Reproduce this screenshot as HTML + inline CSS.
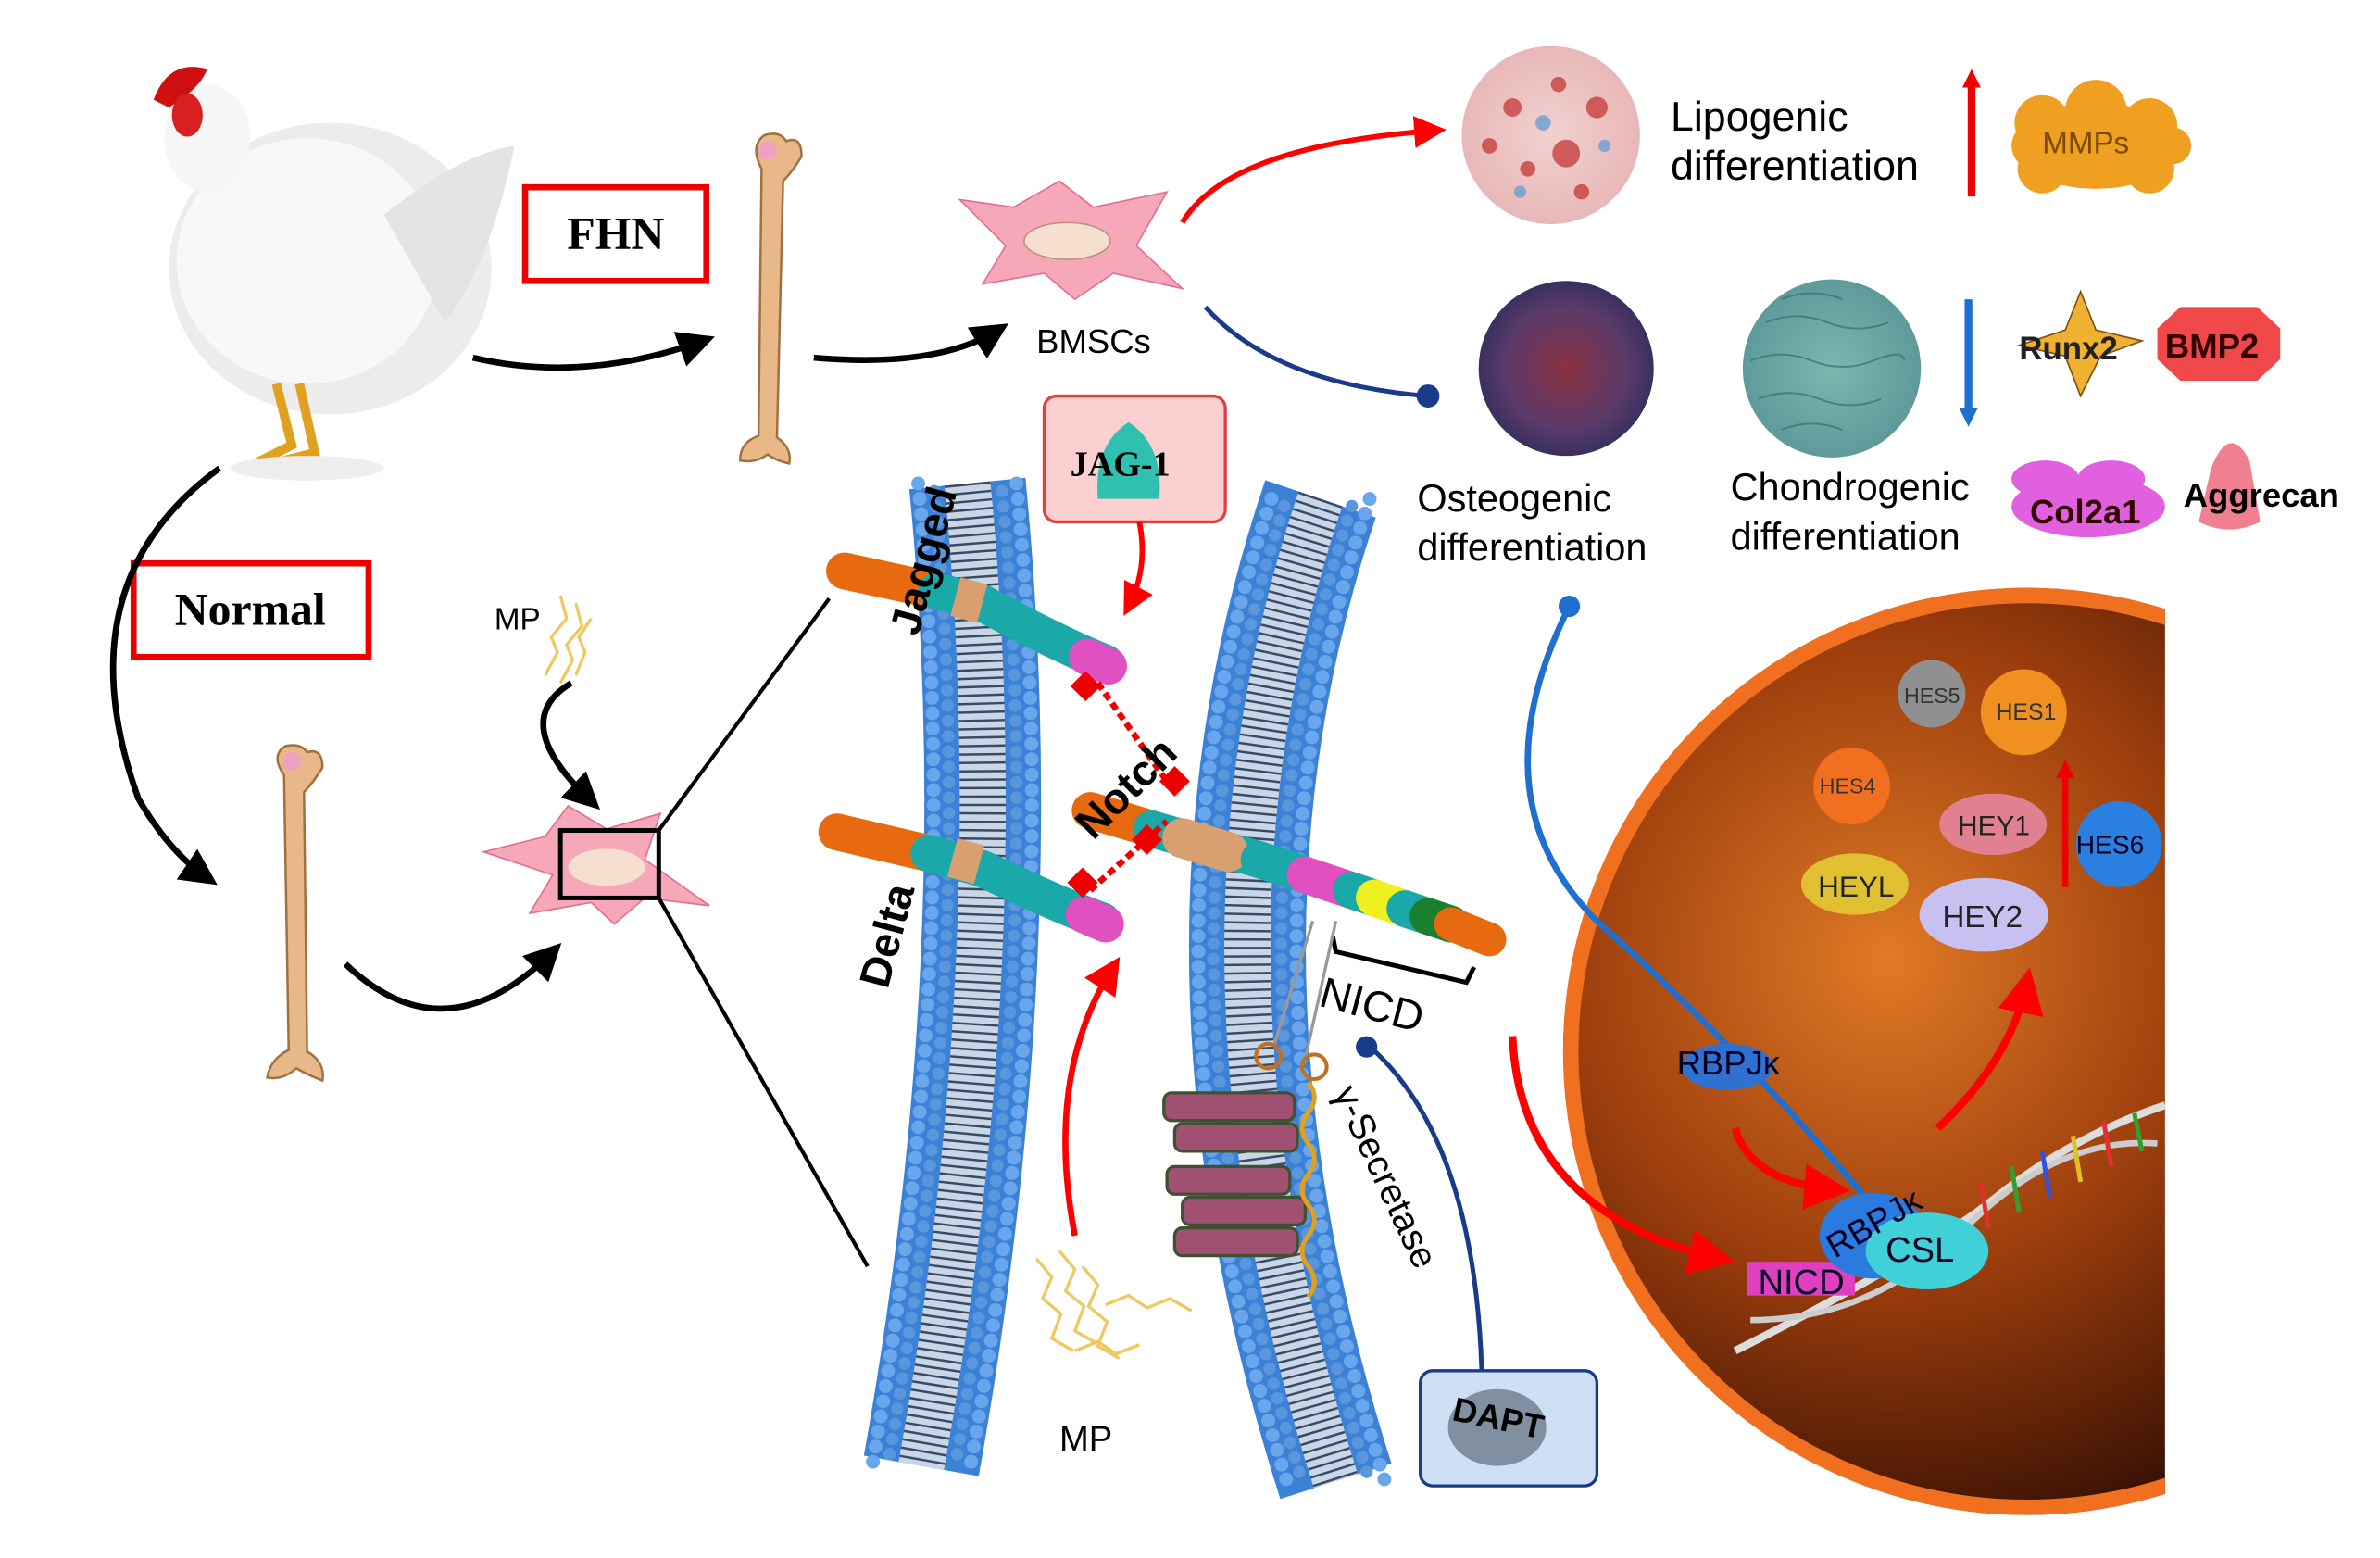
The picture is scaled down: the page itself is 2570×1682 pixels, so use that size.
<!DOCTYPE html>
<html><head><meta charset="utf-8"><style>
html,body{margin:0;padding:0;background:#fff;}
svg{display:block;}
text{font-family:"Liberation Sans",sans-serif;}
</style></head><body>
<svg width="2570" height="1682" viewBox="0 0 1550 1015" preserveAspectRatio="none" xmlns="http://www.w3.org/2000/svg">
<defs>
<radialGradient id="nuc" cx="0.35" cy="0.4" r="0.7">
<stop offset="0" stop-color="#e07a25"/><stop offset="0.5" stop-color="#9a3c0c"/><stop offset="1" stop-color="#250802"/>
</radialGradient>
<radialGradient id="lip" cx="0.5" cy="0.5" r="0.5"><stop offset="0" stop-color="#f2d0d0"/><stop offset="1" stop-color="#e8b8b8"/></radialGradient>
<radialGradient id="ost" cx="0.5" cy="0.5" r="0.5"><stop offset="0" stop-color="#8a3040"/><stop offset="0.7" stop-color="#5a3a6a"/><stop offset="1" stop-color="#3a3060"/></radialGradient>
<radialGradient id="cho" cx="0.5" cy="0.5" r="0.5"><stop offset="0" stop-color="#7bb8b0"/><stop offset="1" stop-color="#5e9a9a"/></radialGradient>
<marker id="ab" markerWidth="6" markerHeight="6" refX="4" refY="3" orient="auto"><path d="M0,0 L6,3 L0,6 Z" fill="#000"/></marker>
<marker id="ar" markerWidth="6" markerHeight="6" refX="4" refY="3" orient="auto"><path d="M0,0 L6,3 L0,6 Z" fill="#f00"/></marker>
<marker id="dotb" markerWidth="6" markerHeight="6" refX="3" refY="3"><circle cx="3" cy="3" r="2.5" fill="#1a3a8a"/></marker>
<clipPath id="cl"><rect x="0" y="0" width="1410" height="1015"/></clipPath>
</defs>

<!-- chicken -->
<ellipse cx="215" cy="175" rx="105" ry="95" fill="#ececec"/>
<ellipse cx="200" cy="170" rx="85" ry="80" fill="#f8f8f8"/>
<path d="M250,140 Q300,100 335,95 Q320,170 290,210 Z" fill="#e4e4e4"/>
<ellipse cx="135" cy="90" rx="28" ry="35" fill="#f6f6f6"/>
<path d="M100,65 Q110,38 135,45 Q130,58 110,70 Z" fill="#d01010"/>
<ellipse cx="122" cy="75" rx="10" ry="14" fill="#d82020"/>
<path d="M180,250 L190,290 L160,305 M195,250 L205,295 L185,300" stroke="#e0a020" stroke-width="6" fill="none"/>
<ellipse cx="200" cy="305" rx="50" ry="8" fill="#eee"/>

<!-- boxes -->
<rect x="342" y="122" width="118" height="61" fill="#fff" stroke="#e00" stroke-width="4"/>
<text x="401" y="162" font-weight="bold" font-size="30" text-anchor="middle" style="font-family:'Liberation Serif',serif">FHN</text>
<rect x="87" y="367" width="153" height="61" fill="#fff" stroke="#e00" stroke-width="4"/>
<text x="163" y="407" font-weight="bold" font-size="30" text-anchor="middle" style="font-family:'Liberation Serif',serif">Normal</text>

<!-- bones -->
<g fill="#e8b888" stroke="#a07040" stroke-width="1.5">
<path d="M496,110 Q488,95 498,88 Q508,85 512,92 Q522,88 522,102 Q516,112 510,118 L506,285 Q516,292 514,302 Q505,300 500,296 Q492,302 482,300 Q482,288 494,284 Z"/>
<path d="M185,505 Q176,492 186,486 Q196,484 200,490 Q210,487 210,500 Q204,510 198,516 L200,685 Q212,692 210,704 Q200,700 193,696 Q184,704 174,702 Q176,690 188,684 Z"/>
</g>
<circle cx="500" cy="98" r="6" fill="#f0a0c0"/><circle cx="190" cy="496" r="6" fill="#f0a0c0"/>

<!-- black arrows -->
<g stroke="#000" stroke-width="4" fill="none" marker-end="url(#ab)">
<path d="M308,233 Q380,250 458,222"/>
<path d="M530,233 Q610,240 650,215"/>
<path d="M143,305 Q40,380 90,520 Q110,555 135,572"/>
<path d="M225,628 Q290,690 360,620"/>
<path d="M372,445 Q330,470 385,522"/>
</g>

<!-- BMSC cell top -->
<path d="M625,130 L660,135 L690,118 L712,135 L760,125 L740,160 L770,188 L725,178 L700,195 L680,178 L640,185 L655,160 Z" fill="#f7a8b8" stroke="#e07090"/>
<ellipse cx="695" cy="157" rx="28" ry="12" fill="#f5e0d0" stroke="#c09080"/>
<text x="675" y="230" font-size="22">BMSCs</text>

<!-- cell bottom -->
<path d="M315,555 L355,545 L370,525 L395,540 L430,530 L420,560 L462,590 L420,585 L400,602 L385,588 L345,595 L360,570 Z" fill="#f7a8b8" stroke="#e07090"/>
<ellipse cx="395" cy="565" rx="25" ry="12" fill="#f5e0d0"/>
<rect x="365" y="541" width="64" height="44" fill="none" stroke="#000" stroke-width="3"/>
<line x1="429" y1="541" x2="540" y2="390" stroke="#000" stroke-width="2.5"/>
<line x1="429" y1="585" x2="565" y2="825" stroke="#000" stroke-width="2.5"/>
<text x="322" y="410" font-size="20">MP</text>
<path d="M355,440 l8,-15 l-4,-10 l10,-12 l-4,-15 M365,445 l8,-15 l-4,-10 l10,-12 l-4,-15 M375,440 l6,-15 l-4,-10 l8,-12" stroke="#f0c860" stroke-width="2" fill="none"/>

<!-- top right arrows -->
<path d="M770,145 Q800,95 935,85" stroke="#f00" stroke-width="3.5" fill="none" marker-end="url(#ar)"/>
<path d="M785,200 Q830,250 930,258" stroke="#1a3a8a" stroke-width="3" fill="none" marker-end="url(#dotb)"/>

<!-- circles -->
<circle cx="1010" cy="88" r="58" fill="url(#lip)"/>
<g fill="#c84040" opacity="0.8"><circle cx="985" cy="70" r="6"/><circle cx="1020" cy="100" r="9"/><circle cx="995" cy="110" r="5"/><circle cx="1040" cy="70" r="7"/><circle cx="970" cy="95" r="5"/><circle cx="1030" cy="125" r="5"/><circle cx="1015" cy="55" r="5"/></g>
<g fill="#6aa0d0" opacity="0.8"><circle cx="1005" cy="80" r="5"/><circle cx="1045" cy="95" r="4"/><circle cx="990" cy="125" r="4"/></g>
<circle cx="1020" cy="240" r="57" fill="url(#ost)"/>
<circle cx="1193" cy="240" r="58" fill="url(#cho)"/>
<g stroke="#3a7070" stroke-width="1.2" fill="none" opacity="0.7"><path d="M1150,210 q20,-8 40,0 t40,0"/><path d="M1140,235 q20,-8 40,0 t40,0 t20,0"/><path d="M1145,260 q20,-8 40,0 t40,0"/><path d="M1160,280 q20,-8 40,0"/><path d="M1160,195 q20,-8 40,0"/></g>

<text x="1088" y="85" font-size="27">Lipogenic</text>
<text x="1088" y="117" font-size="27">differentiation</text>
<text x="923" y="333" font-size="25">Osteogenic</text>
<text x="923" y="365" font-size="25">differentiation</text>
<text x="1127" y="326" font-size="25">Chondrogenic</text>
<text x="1127" y="358" font-size="25">differentiation</text>

<line x1="1284" y1="128" x2="1284" y2="55" stroke="#e00" stroke-width="5"/><path d="M1278,57 L1284,45 L1290,57 Z" fill="#e00"/>
<line x1="1282" y1="195" x2="1282" y2="268" stroke="#1e6fd0" stroke-width="5"/><path d="M1276,266 L1282,278 L1288,266 Z" fill="#1e6fd0"/>

<!-- MMPs cloud -->
<g fill="#f0a020"><ellipse cx="1365" cy="95" rx="55" ry="28"/><circle cx="1330" cy="80" r="18"/><circle cx="1365" cy="72" r="20"/><circle cx="1400" cy="82" r="18"/><circle cx="1330" cy="110" r="16"/><circle cx="1400" cy="110" r="16"/><circle cx="1415" cy="95" r="12"/></g>
<text x="1330" y="100" font-size="20" fill="#7a4a00">MMPs</text>
<path d="M1355,190 L1365,215 L1395,222 L1368,232 L1355,258 L1345,232 L1315,225 L1345,215 Z" fill="#f0b030" stroke="#805010"/>
<text x="1315" y="234" font-size="21" font-weight="bold" fill="#222">Runx2</text>
<path d="M1420,200 L1470,200 L1485,214 L1485,234 L1470,248 L1420,248 L1405,234 L1405,214 Z" fill="#f04848"/>
<text x="1410" y="233" font-size="22" font-weight="bold" fill="#300">BMP2</text>
<g fill="#e060e0"><ellipse cx="1360" cy="330" rx="50" ry="20"/><ellipse cx="1332" cy="312" rx="22" ry="12"/><ellipse cx="1375" cy="312" rx="22" ry="12"/></g>
<text x="1322" y="341" font-size="22" font-weight="bold" fill="#300">Col2a1</text>
<path d="M1440,305 Q1452,275 1465,300 L1472,340 Q1452,350 1432,340 Z" fill="#f08090"/>
<text x="1422" y="330" font-size="22" font-weight="bold">Aggrecan</text>

<!-- JAG-1 box -->
<rect x="680" y="258" width="118" height="82" rx="8" fill="#fcd0d0" stroke="#e04040" stroke-width="2"/>
<path d="M715,325 Q712,290 735,275 Q758,290 755,325 Z" fill="#30c0b0"/>
<text x="697" y="310" font-size="23" font-weight="bold" style="font-family:'Liberation Serif',serif">JAG-1</text>
<path d="M742,340 Q748,370 735,395" stroke="#f00" stroke-width="3.5" fill="none" marker-end="url(#ar)"/>

<!-- membranes -->
<g fill="none" stroke-linecap="butt">
<path d="M630,315 Q660,620 600,955" stroke="#3b82d6" stroke-width="76"/>
<path d="M630,315 Q660,620 600,955" stroke="#c8d6e6" stroke-width="30"/>
<path d="M630,315 Q660,620 600,955" stroke="#3a4a66" stroke-width="30" stroke-dasharray="1.5 4"/>
<path d="M598,315 Q628,620 568,955" stroke="#6aa6ec" stroke-width="9" stroke-linecap="round" stroke-dasharray="0 10"/>
<path d="M608,315 Q638,620 578,955" stroke="#5a96dc" stroke-width="8" stroke-linecap="round" stroke-dasharray="0 10" stroke-dashoffset="5"/>
<path d="M652,315 Q682,620 622,955" stroke="#5a96dc" stroke-width="8" stroke-linecap="round" stroke-dasharray="0 10" stroke-dashoffset="5"/>
<path d="M662,315 Q692,620 632,955" stroke="#6aa6ec" stroke-width="9" stroke-linecap="round" stroke-dasharray="0 10"/>
<path d="M860,325 Q760,620 870,965" stroke="#3b82d6" stroke-width="76"/>
<path d="M860,325 Q760,620 870,965" stroke="#c8d6e6" stroke-width="30"/>
<path d="M860,325 Q760,620 870,965" stroke="#3a4a66" stroke-width="30" stroke-dasharray="1.5 4"/>
<path d="M828,325 Q728,620 838,965" stroke="#6aa6ec" stroke-width="9" stroke-linecap="round" stroke-dasharray="0 10"/>
<path d="M838,325 Q738,620 848,965" stroke="#5a96dc" stroke-width="8" stroke-linecap="round" stroke-dasharray="0 10" stroke-dashoffset="5"/>
<path d="M882,325 Q782,620 892,965" stroke="#5a96dc" stroke-width="8" stroke-linecap="round" stroke-dasharray="0 10" stroke-dashoffset="5"/>
<path d="M892,325 Q792,620 902,965" stroke="#6aa6ec" stroke-width="9" stroke-linecap="round" stroke-dasharray="0 10"/>
</g>

<!-- Jagged / Delta / Notch -->
<g stroke-linecap="round" fill="none">
<path d="M550,372 L610,385" stroke="#e86a10" stroke-width="24"/>
<path d="M610,385 L640,393" stroke="#1aa8a8" stroke-width="24"/>
<path d="M640,393 Q690,420 720,432" stroke="#1aa8a8" stroke-width="24"/>
<path d="M708,428 L722,434" stroke="#e050c0" stroke-width="24"/>
<path d="M545,542 L605,556" stroke="#e86a10" stroke-width="24"/>
<path d="M605,556 L640,566" stroke="#1aa8a8" stroke-width="24"/>
<path d="M640,566 Q690,590 718,600" stroke="#1aa8a8" stroke-width="24"/>
<path d="M706,596 L720,602" stroke="#e050c0" stroke-width="24"/>
<path d="M710,528 L750,540" stroke="#e86a10" stroke-width="24"/>
<path d="M750,540 L820,560" stroke="#1aa8a8" stroke-width="24"/>
<path d="M770,546 L800,555" stroke="#d8a070" stroke-width="26"/>
<path d="M820,560 L850,570" stroke="#1aa8a8" stroke-width="24"/>
<path d="M850,570 L880,580" stroke="#e050c0" stroke-width="24"/>
<path d="M880,580 L895,585" stroke="#1aa8a8" stroke-width="24"/>
<path d="M895,585 L915,592" stroke="#f0f020" stroke-width="24"/>
<path d="M915,592 L930,597" stroke="#1aa8a8" stroke-width="24"/>
<path d="M930,597 L945,602" stroke="#1a8030" stroke-width="24"/>
<path d="M945,602 L970,612" stroke="#e86a10" stroke-width="22"/>
</g>
<rect x="622" y="378" width="18" height="26" fill="#d8a070" transform="rotate(15 631 391)"/>
<rect x="620" y="548" width="18" height="26" fill="#d8a070" transform="rotate(15 629 561)"/>
<path d="M715,445 L762,512" stroke="#e00" stroke-width="4" stroke-dasharray="5 3"/>
<path d="M710,580 L760,535" stroke="#e00" stroke-width="4" stroke-dasharray="5 3"/>
<g fill="#e00"><rect x="700" y="440" width="14" height="14" transform="rotate(45 707 447)"/><rect x="758" y="502" width="14" height="14" transform="rotate(45 765 509)"/><rect x="698" y="568" width="14" height="14" transform="rotate(45 705 575)"/><rect x="740" y="540" width="14" height="14" transform="rotate(45 747 547)"/></g>
<text font-size="28" font-weight="bold" transform="translate(598,415) rotate(-75)">Jagged</text>
<text font-size="28" font-weight="bold" transform="translate(578,645) rotate(-75)">Delta</text>
<text font-size="28" font-weight="bold" transform="translate(712,548) rotate(-45)">Notch</text>
<path d="M868,610 L870,620 L955,640 L960,630" stroke="#000" stroke-width="3" fill="none"/>
<text font-size="28" transform="translate(858,655) rotate(15)">NICD</text>
<text font-size="24" transform="translate(868,712) rotate(65)">γ-Secretase</text>
<path d="M855,600 L830,680 M870,600 L850,690" stroke="#999" stroke-width="2" fill="none"/>
<circle cx="826" cy="688" r="8" fill="none" stroke="#c07020" stroke-width="2.5"/><circle cx="856" cy="695" r="8" fill="none" stroke="#c07020" stroke-width="2.5"/>
<g fill="#a05070" stroke="#405030" stroke-width="2">
<rect x="758" y="712" width="85" height="18" rx="5"/><rect x="765" y="732" width="80" height="18" rx="5"/>
<rect x="760" y="760" width="80" height="18" rx="5"/><rect x="770" y="780" width="80" height="18" rx="5"/><rect x="765" y="800" width="80" height="18" rx="5"/>
</g>
<path d="M852,705 q8,10 0,20 q-8,10 0,20 q8,10 0,20 q-8,10 0,20 q8,10 0,20 q-8,10 0,20 q8,10 0,20" stroke="#e0a020" stroke-width="3" fill="none"/>
<path d="M700,805 Q680,700 725,630" stroke="#f00" stroke-width="4" fill="none" marker-end="url(#ar)"/>
<g stroke="#f0c860" stroke-width="2" fill="none"><path d="M675,820 l10,12 l-6,14 l12,10 l-6,16 l14,8"/><path d="M690,815 l10,12 l-6,14 l12,10 l-6,16 l14,8"/><path d="M705,825 l10,12 l-6,14 l12,10 l-6,16 l14,8"/><path d="M720,850 l15,-6 l12,8 l15,-6 l14,8"/><path d="M700,880 l15,-6 l12,8 l15,-6"/></g>
<text x="690" y="945" font-size="23">MP</text>

<!-- DAPT -->
<path d="M890,680 Q960,740 965,893" stroke="#1a3a8a" stroke-width="3" fill="none"/>
<circle cx="890" cy="682" r="7" fill="#1a3a8a"/>
<rect x="925" y="893" width="115" height="75" rx="8" fill="#cfe0f4" stroke="#1a3a8a" stroke-width="2"/>
<ellipse cx="975" cy="930" rx="32" ry="25" fill="#8090a0"/>
<text font-size="22" font-weight="bold" transform="translate(945,925) rotate(12)">DAPT</text>

<!-- nucleus -->
<g clip-path="url(#cl)">
<circle cx="1320" cy="685" r="302" fill="url(#nuc)"/>
<circle cx="1320" cy="685" r="297" fill="none" stroke="#f07020" stroke-width="10"/>
</g>
<path d="M1022,395 Q960,520 1040,600 Q1130,680 1215,780" stroke="#1e6fd0" stroke-width="4" fill="none"/>
<circle cx="1022" cy="395" r="7" fill="#1e6fd0"/>
<path d="M985,675 Q990,790 1120,820" stroke="#f00" stroke-width="5" fill="none" marker-end="url(#ar)"/>
<path d="M1130,880 Q1250,820 1300,780 T1410,720" stroke="#ddd" stroke-width="5" fill="none"/>
<path d="M1140,860 Q1220,860 1280,800 T1405,745" stroke="#ccc" stroke-width="4" fill="none"/>
<g stroke-width="3"><line x1="1290" y1="770" x2="1295" y2="800" stroke="#e03030"/><line x1="1310" y1="760" x2="1315" y2="790" stroke="#30a030"/><line x1="1330" y1="750" x2="1335" y2="780" stroke="#3050e0"/><line x1="1350" y1="740" x2="1355" y2="770" stroke="#e0c020"/><line x1="1370" y1="730" x2="1375" y2="760" stroke="#e03030"/><line x1="1390" y1="725" x2="1395" y2="750" stroke="#30a030"/></g>
<ellipse cx="1125" cy="695" rx="30" ry="15" fill="#3070d0"/>
<text x="1092" y="700" font-size="22" fill="#002">RBPJκ</text>
<path d="M1130,735 Q1140,770 1195,775" stroke="#f00" stroke-width="5" fill="none" marker-end="url(#ar)"/>
<rect x="1138" y="822" width="70" height="22" fill="#e040c0"/>
<ellipse cx="1220" cy="805" rx="35" ry="28" fill="#2a7ae0"/>
<ellipse cx="1255" cy="815" rx="40" ry="25" fill="#40d0d8"/>
<text x="1145" y="843" font-size="23" fill="#002">NICD</text>
<text font-size="22" fill="#002" transform="translate(1195,820) rotate(-30)">RBPJκ</text>
<text x="1228" y="822" font-size="23" fill="#002">CSL</text>
<path d="M1262,735 Q1310,690 1320,640" stroke="#f00" stroke-width="5" fill="none" marker-end="url(#ar)"/>
<circle cx="1258" cy="452" r="22" fill="#909090"/><text x="1240" y="458" font-size="14" fill="#333">HES5</text>
<circle cx="1318" cy="464" r="28" fill="#f09020"/><text x="1300" y="469" font-size="15" fill="#333">HES1</text>
<circle cx="1206" cy="512" r="25" fill="#f07020"/><text x="1185" y="517" font-size="14" fill="#333">HES4</text>
<ellipse cx="1298" cy="537" rx="35" ry="20" fill="#e08090"/><text x="1275" y="544" font-size="18" fill="#222">HEY1</text>
<ellipse cx="1208" cy="576" rx="35" ry="20" fill="#e0c030"/><text x="1184" y="584" font-size="19" fill="#222">HEYL</text>
<ellipse cx="1292" cy="596" rx="42" ry="24" fill="#c8c0f0"/><text x="1265" y="604" font-size="20" fill="#222">HEY2</text>
<circle cx="1380" cy="550" r="28" fill="#2a80e0"/><text x="1352" y="556" font-size="17" fill="#002">HES6</text>
<line x1="1345" y1="578" x2="1345" y2="505" stroke="#e00" stroke-width="4"/><path d="M1339,507 L1345,495 L1351,507 Z" fill="#e00"/>
</svg>
</body></html>
